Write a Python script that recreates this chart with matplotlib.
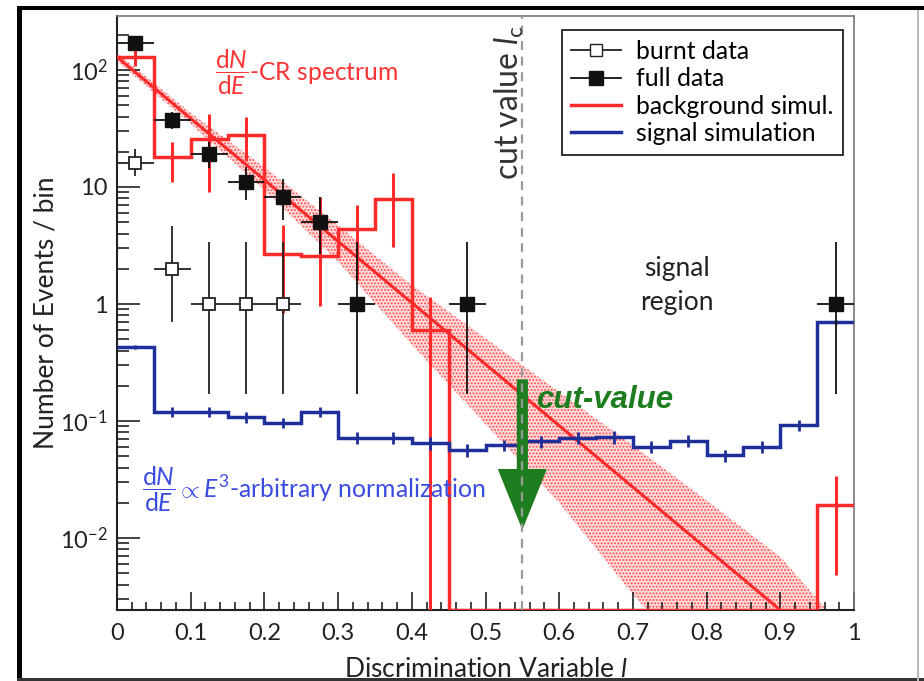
import numpy as np
import matplotlib
matplotlib.use('Agg')
import matplotlib.pyplot as plt
import matplotlib.transforms as mtransforms
from matplotlib.patches import Rectangle
from matplotlib.lines import Line2D
from matplotlib.ticker import FixedLocator, LogLocator, MultipleLocator, NullFormatter, FuncFormatter

plt.rcParams['font.family'] = ['Lato', 'DejaVu Sans']
plt.rcParams['mathtext.fontset'] = 'custom'
plt.rcParams['mathtext.rm'] = 'Lato'
plt.rcParams['mathtext.it'] = 'Lato:italic'
plt.rcParams['mathtext.bf'] = 'Lato:bold'
plt.rcParams['mathtext.sf'] = 'Lato'
plt.rcParams['hatch.color'] = '#ff4a4a'
plt.rcParams['hatch.linewidth'] = 0.9

# 20 bins of the discrimination variable
bin_edges = np.arange(21) * 0.05
bin_centers = bin_edges[:-1] + 0.025

# measured events
full_l = [0.025, 0.075, 0.125, 0.175, 0.225, 0.275, 0.325, 0.475, 0.975]
full_n = [170, 37, 19, 11, 8.2, 5, 1, 1, 1]
full_lo = [13, 6, 4.4, 3.2, 3.0, 2.3, 0.83, 0.83, 0.83]
full_hi = [14, 7, 5, 3.8, 3.5, 3.2, 2.4, 2.4, 2.4]

burnt_l = [0.025, 0.075, 0.125, 0.175, 0.225]
burnt_n = [16, 2, 1, 1, 1]
burnt_lo = [3.6, 1.3, 0.83, 0.83, 0.83]
burnt_hi = [5, 2.6, 2.4, 2.4, 2.4]

# background (cosmic ray) simulation per bin
bkg = [130, 18, 25.7, 27.8, 2.7, 2.57, 4.4, 7.9, 0.6, 0, 0, 0, 0, 0, 0, 0, 0, 0, 0, 0.019]
bkg_lo = [22, 7, 16.6, 11, 1.86, 1.6, 2.8, 4.8, 0.6, 0, 0, 0, 0, 0, 0, 0, 0, 0, 0, 0.0142]
bkg_hi = [18, 6.2, 16, 12, 2.0, 5.6, 2.6, 5.2, 0.55, 0, 0, 0, 0, 0, 0, 0, 0, 0, 0, 0.015]

# signal simulation per bin
sig = [0.43, 0.12, 0.12, 0.108, 0.097, 0.12, 0.072, 0.072, 0.065, 0.0565,
       0.0625, 0.067, 0.072, 0.073, 0.060, 0.0675, 0.051, 0.060, 0.092, 0.70]
sig_err = [0.02, 0.012, 0.012, 0.011, 0.010, 0.012, 0.008, 0.008, 0.008, 0.007,
           0.007, 0.008, 0.008, 0.009, 0.007, 0.008, 0.006, 0.007, 0.010, 0.03]

# exponential fit to the background and its uncertainty band
fit_l = [0.0, 0.9]
fit_n = [129, 2.43e-3]
band_l = [0.0, 0.1, 0.2, 0.3, 0.4, 0.5, 0.6, 0.7, 0.8, 0.9, 1.0]
band_hi = [140, 43, 14.8, 4.7, 1.45, 0.51, 0.177, 0.062, 0.021, 0.0069, 0.00133]
band_lo = [119, 34.5, 9.4, 2.3, 0.45, 0.094, 0.020, 0.0033, 6.6e-4, 1.3e-4, 2.7e-5]

cut_value = 0.55
y_min, y_max = 2.43e-3, 289

RED = '#ff2b2b'
BLUE = '#1f2f99'
GREEN = '#1e7d1e'

fig = plt.figure(figsize=(9.24, 6.81), dpi=100)
ax = fig.add_axes([117 / 924, 71 / 681, 737 / 924, 594 / 681])
ax.set_yscale('log')
ax.set_xlim(0, 1)
ax.set_ylim(y_min, y_max)

ax.fill_between(band_l, band_lo, band_hi, facecolor=(1, 0.86, 0.86), edgecolor='#ff4a4a',
                hatch='.....', linewidth=0, zorder=1)
ax.plot(fit_l, fit_n, color=RED, lw=2.2, zorder=3)

bkg_arr = np.array(bkg)
bkg_draw = np.where(bkg_arr > 0, bkg_arr, y_min)
ax.stairs(bkg_draw, bin_edges, baseline=None, color=RED, lw=2.5, zorder=3)
has_bkg = bkg_arr > 0
ax.errorbar(bin_centers[has_bkg], bkg_arr[has_bkg],
            yerr=[np.array(bkg_lo)[has_bkg], np.array(bkg_hi)[has_bkg]],
            fmt='none', ecolor=RED, elinewidth=2.2, capsize=0, zorder=3)

ax.stairs(sig, bin_edges, baseline=None, color=BLUE, lw=2.5, zorder=4)
ax.errorbar(bin_centers, sig, yerr=sig_err, fmt='none', ecolor=BLUE,
            elinewidth=2.0, capsize=0, zorder=4)

ax.errorbar(burnt_l, burnt_n, xerr=0.025, yerr=[burnt_lo, burnt_hi], fmt='s', color='#222',
            mfc='white', mec='#222', ms=9, mew=1.3, elinewidth=1.3, capsize=0, zorder=5)
ax.errorbar(full_l, full_n, xerr=0.025, yerr=[full_lo, full_hi], fmt='s', color='#111',
            mfc='#111', mec='#111', ms=9.5, elinewidth=1.3, capsize=0, zorder=5)

# green arrow pointing down at the cut
ax.annotate('', xy=(cut_value, 0.0122), xytext=(cut_value, 0.224),
            arrowprops=dict(arrowstyle='simple,head_length=4.2,head_width=3.4,tail_width=0.7',
                            mutation_scale=10, color=GREEN, shrinkA=0, shrinkB=0),
            zorder=6)
ax.axvline(cut_value, color='#9a9a9a', lw=1.6, ls=(0, (4, 3)), zorder=7)

# axes styling
ax.xaxis.set_major_locator(MultipleLocator(0.1))
ax.xaxis.set_minor_locator(MultipleLocator(0.02))
ax.xaxis.set_major_formatter(FuncFormatter(lambda v, p: f'{v:g}'))
ax.yaxis.set_major_locator(FixedLocator([1e-2, 1e-1, 1, 10, 100]))
ax.set_yticklabels([r'$10^{-2}$', r'$10^{-1}$', '1', '10', r'$10^{2}$'])
ax.yaxis.set_minor_locator(LogLocator(base=10, subs=np.arange(2, 10), numticks=20))
ax.yaxis.set_minor_formatter(NullFormatter())
ax.tick_params(axis='both', which='both', direction='in', top=False, right=False,
               colors='#222', width=1.2, labelsize=17)
ax.tick_params(axis='y', which='major', length=16.5, pad=6.5)
ax.tick_params(axis='y', which='minor', length=8.5)
ax.tick_params(axis='x', which='major', length=13, pad=9)
ax.tick_params(axis='x', which='minor', length=6)
for side in ['left', 'bottom']:
    ax.spines[side].set_linewidth(1.5)
    ax.spines[side].set_color('#222')
for side in ['top', 'right']:
    ax.spines[side].set_linewidth(1.2)
    ax.spines[side].set_color('#777')

ax.set_ylabel('Number of Events / bin', fontsize=19, color='#222')
ax.yaxis.set_label_coords(-0.079, 0.5)
ax.set_xlabel(r'Discrimination Variable $l$', fontsize=19, color='#222')
ax.xaxis.set_label_coords(0.5, -0.079)

# annotations
ax.text(0.133, 82, r'$\dfrac{\mathrm{d}N}{\mathrm{d}E}$-CR spectrum', color='#ff3535',
        fontsize=17.7, va='baseline', ha='left', zorder=8)
ax.text(0.034, 0.0224, r'$\dfrac{\mathrm{d}N}{\mathrm{d}E} \propto E^{3}$-arbitrary normalization',
        color='#3a4be0', fontsize=17.8, va='baseline', ha='left', zorder=8)
ax.text(0.5685, 0.129, 'cut-value', color=GREEN, fontsize=22.5, fontweight='bold',
        fontstyle='italic', family=['Liberation Sans', 'DejaVu Sans'], va='baseline', ha='left', zorder=8)
ax.text(0.76, 1.45, 'signal\nregion', color='#222', fontsize=19, ha='center', va='center',
        linespacing=1.45, zorder=8)
blend = mtransforms.blended_transform_factory(ax.transData, ax.transAxes)
ax.text(0.533, 0.985, r'cut value $l_{\mathrm{c}}$', transform=blend, rotation=90,
        color='#333', fontsize=23, ha='center', va='top', zorder=8)

handles = [
    Line2D([0], [0], color='#222', lw=1.3, marker='s', ms=9, mfc='white', mec='#222'),
    Line2D([0], [0], color='#111', lw=1.3, marker='s', ms=9.5, mfc='#111', mec='#111'),
    Line2D([0], [0], color=RED, lw=2.5),
    Line2D([0], [0], color=BLUE, lw=2.5),
]
labels = ['burnt data', 'full data', 'background simul.', 'signal simulation']
leg = ax.legend(handles, labels, loc='upper right', bbox_to_anchor=(0.985, 0.976),
                borderaxespad=0, fontsize=17.8, frameon=True, fancybox=False,
                edgecolor='#222', framealpha=1, handlelength=2.0, handletextpad=0.6,
                labelspacing=0.17, borderpad=0.4)
leg.get_frame().set_linewidth(1.3)
leg.set_zorder(9)

# slide frame around the figure
fig.add_artist(Rectangle((17 / 924, 0), 5 / 924, 675 / 681, transform=fig.transFigure,
                         color='black', lw=0))
fig.add_artist(Rectangle((17 / 924, 671 / 681), 907 / 924, 4 / 681, transform=fig.transFigure,
                         color='black', lw=0))
fig.add_artist(Rectangle((17 / 924, 0), 907 / 924, 3 / 681, transform=fig.transFigure,
                         color='#333', lw=0))
fig.add_artist(Rectangle((917 / 924, 0), 1.5 / 924, 671 / 681, transform=fig.transFigure,
                         color='#bbb', lw=0))

fig.savefig('out.png', dpi=100)
